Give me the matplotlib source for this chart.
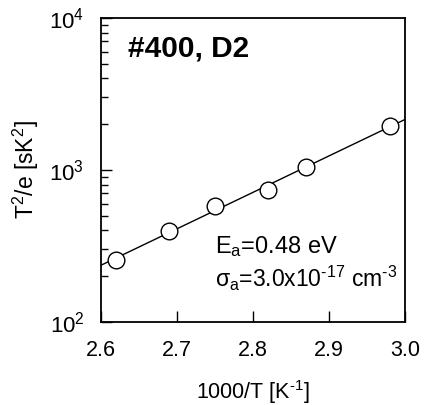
import matplotlib
matplotlib.use("Agg")
import matplotlib.pyplot as plt
import numpy as np

plt.rcParams['font.family'] = ['Liberation Sans', 'DejaVu Sans']
plt.rcParams['mathtext.fontset'] = 'custom'
plt.rcParams['mathtext.rm'] = 'Liberation Sans'
plt.rcParams['mathtext.it'] = 'Liberation Sans'
plt.rcParams['mathtext.bf'] = 'Liberation Sans:bold'

# data
inv_temp = [2.62, 2.69, 2.75, 2.82, 2.87, 2.98]
t2_over_e = [256, 397, 580, 738, 1047, 1946]
x_ticks = [2.6, 2.7, 2.8, 2.9, 3.0]
x_tick_labels = ["2.6", "2.7", "2.8", "2.9", "3.0"]

# straight-line fit in log space
slope, icpt = np.polyfit(inv_temp, np.log10(t2_over_e), 1)
fit_x = np.array([2.6, 3.0])
fit_y = 10 ** (icpt + slope * fit_x)

fig = plt.figure(figsize=(4.3, 4.05), dpi=100)
ax = fig.add_axes([0.235, 0.205, 0.707, 0.751])

ax.plot(fit_x, fit_y, color='black', lw=1.0, zorder=2)
ax.plot(inv_temp, t2_over_e, 'o', ms=12, mfc='white', mec='black', mew=1.0, zorder=3)

ax.set_yscale('log')
ax.set_xlim(2.6, 3.0)
ax.set_ylim(100, 10000)
ax.set_xticks(x_ticks)
ax.set_xticklabels(x_tick_labels)
ax.set_yticks([100, 1000, 10000])
ax.set_yticklabels([r'$10^2$', r'$10^3$', r'$10^4$'])

ax.tick_params(axis='x', which='major', direction='in', length=8, width=1,
               labelsize=15.5, top=False, pad=13)
ax.tick_params(axis='y', which='major', direction='in', length=8, width=1,
               labelsize=16, right=False, pad=12)
ax.tick_params(axis='y', which='minor', direction='in', length=5, width=1, right=False)
ax.tick_params(axis='x', which='minor', bottom=False, top=False)
for s in ax.spines.values():
    s.set_linewidth(1.3)

ax.set_xlabel(r'1000/T [K$^{\text{-1}}$]', fontsize=15.5, labelpad=12)
ax.set_ylabel(r'T$^2$/e [sK$^2$]', fontsize=16.5, labelpad=6)

ax.text(0.09, 0.90, '#400, D2', transform=ax.transAxes, fontsize=21.5,
        fontweight='bold', va='center')
ax.text(0.375, 0.227, r'E$_\mathrm{a}$=0.48 eV', transform=ax.transAxes,
        fontsize=17, va='baseline')
ax.text(0.375, 0.115, r'$\sigma_\mathrm{a}$=3.0x10$^{\text{-17}}$ cm$^{\text{-3}}$',
        transform=ax.transAxes, fontsize=16.5, va='baseline')

fig.savefig('out.png', dpi=100)
